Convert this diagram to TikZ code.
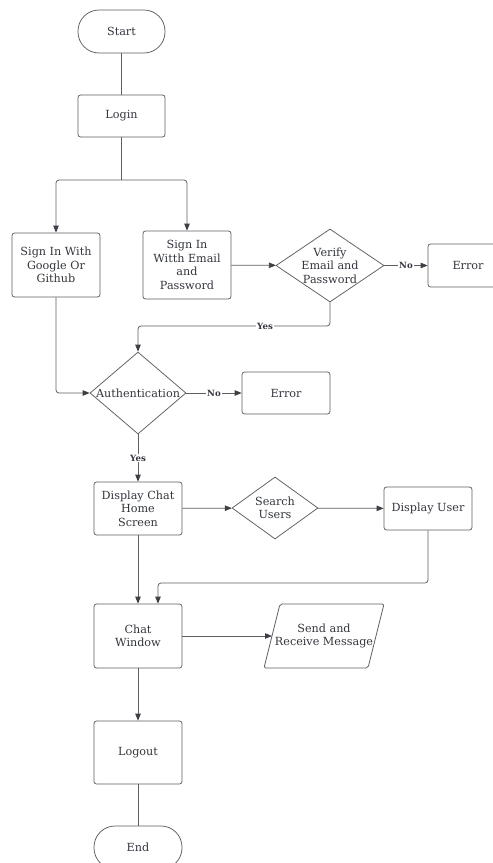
\documentclass[tikz,border=0pt]{standalone}
\usepackage{fontspec}
\setmainfont{DejaVu Serif}
\usetikzlibrary{shapes.geometric,arrows.meta}
\definecolor{linec}{HTML}{5E5E5E}
\definecolor{textc}{HTML}{33363D}
\definecolor{arrc}{HTML}{3C3F46}
\begin{document}
\begin{tikzpicture}[x=1pt,y=-1pt,
  every node/.style={text=textc,font=\fontsize{11.2}{13.6}\selectfont,align=center},
  box/.style={draw=linec,line width=0.75pt,rounded corners=2.5pt,inner sep=0pt},
  term/.style={draw=linec,line width=0.75pt,rounded corners=21pt,inner sep=0pt,minimum width=87pt,minimum height=43pt},
  dia/.style={draw=linec,line width=0.75pt,shape=diamond,inner sep=0pt},
  conn/.style={draw=linec,line width=0.75pt,rounded corners=3pt},
  arr/.style={conn,-{Triangle[length=7pt,width=5.5pt,fill=arrc,color=arrc]}},
  lbl/.style={fill=white,inner sep=1pt,font=\fontsize{8.6}{10}\selectfont\bfseries}]
\useasboundingbox (0,0) rectangle (493,863);
\fill[white] (0,0) rectangle (493,863);

\node[term] (start) at (121.5,31.5) {Start};
\node[box,minimum width=87pt,minimum height=42pt] (login) at (121.5,116) {Login};
\node[box,minimum width=88pt,minimum height=64pt] (google) at (56,265) {Sign In With\\Google Or\\Github};
\node[box,minimum width=88pt,minimum height=68pt] (email) at (187,265) {Sign In\\Witth Email\\and\\Password};
\node[dia,minimum width=108pt,minimum height=73pt] (verify) at (330,265.5) {};
\node at (verify) {Verify\\Email and\\Password};
\node[box,minimum width=80pt,minimum height=43pt] (err1) at (468,265.5) {Error};
\node[dia,minimum width=96pt,minimum height=82pt] (auth) at (138,393) {};
\node at (auth) {Authentication};
\node[box,minimum width=88pt,minimum height=42pt] (err2) at (286,393) {Error};
\node[box,minimum width=88pt,minimum height=53pt] (home) at (138,508.5) {Display Chat\\Home\\Screen};
\node[dia,minimum width=86pt,minimum height=62pt] (search) at (275,508) {};
\node at (search) {Search\\Users};
\node[box,minimum width=88pt,minimum height=43pt] (duser) at (428,508.5) {Display User};
\node[box,minimum width=88pt,minimum height=64pt] (chatw) at (138,636) {Chat\\Window};
% parallelogram
\coordinate (p1) at (280,604);
\coordinate (p2) at (384,604);
\coordinate (p3) at (368,668);
\coordinate (p4) at (264,668);
\draw[linec,line width=0.75pt,rounded corners=2pt] (p1) -- (p2) -- (p3) -- (p4) -- cycle;
\node (send) at (324,636) {Send and\\Receive Message};
\coordinate (sendin) at (272,636);
\node[box,minimum width=88pt,minimum height=63pt] (logout) at (138,752.5) {Logout};
\node[term,minimum width=88pt] (end) at (138,847.5) {End};

% connectors
\draw[conn] (start) -- (login);
\coordinate (split) at (121.5,180);
\draw[conn] (login) -- (split);
\draw[arr] (split) -| (google.north);
\draw[arr] (split) -| (email.north);
\draw[arr] (email) -- (verify);
\draw[arr] (verify) -- node[lbl]{No} (err1);
\draw[arr] (verify.south) |- (200,326) node[lbl,pos=0.75]{Yes} -| (auth.north);
\draw[arr] (google.south) |- (auth.west);
\draw[arr] (auth) -- node[lbl]{No} (err2);
\draw[arr] (auth.south) -- node[lbl,pos=0.5]{Yes} (home.north);
\draw[arr] (home) -- (search);
\draw[arr] (search) -- (duser);
\draw[arr] (duser.south) |- (300,583) -| ([xshift=20pt]chatw.north);
\draw[arr] (home.south) -- (chatw.north);
\draw[arr] (chatw.east) -- (sendin);
\draw[arr] (chatw.south) -- (logout.north);
\draw[conn] (logout) -- (end);
\end{tikzpicture}
\end{document}
